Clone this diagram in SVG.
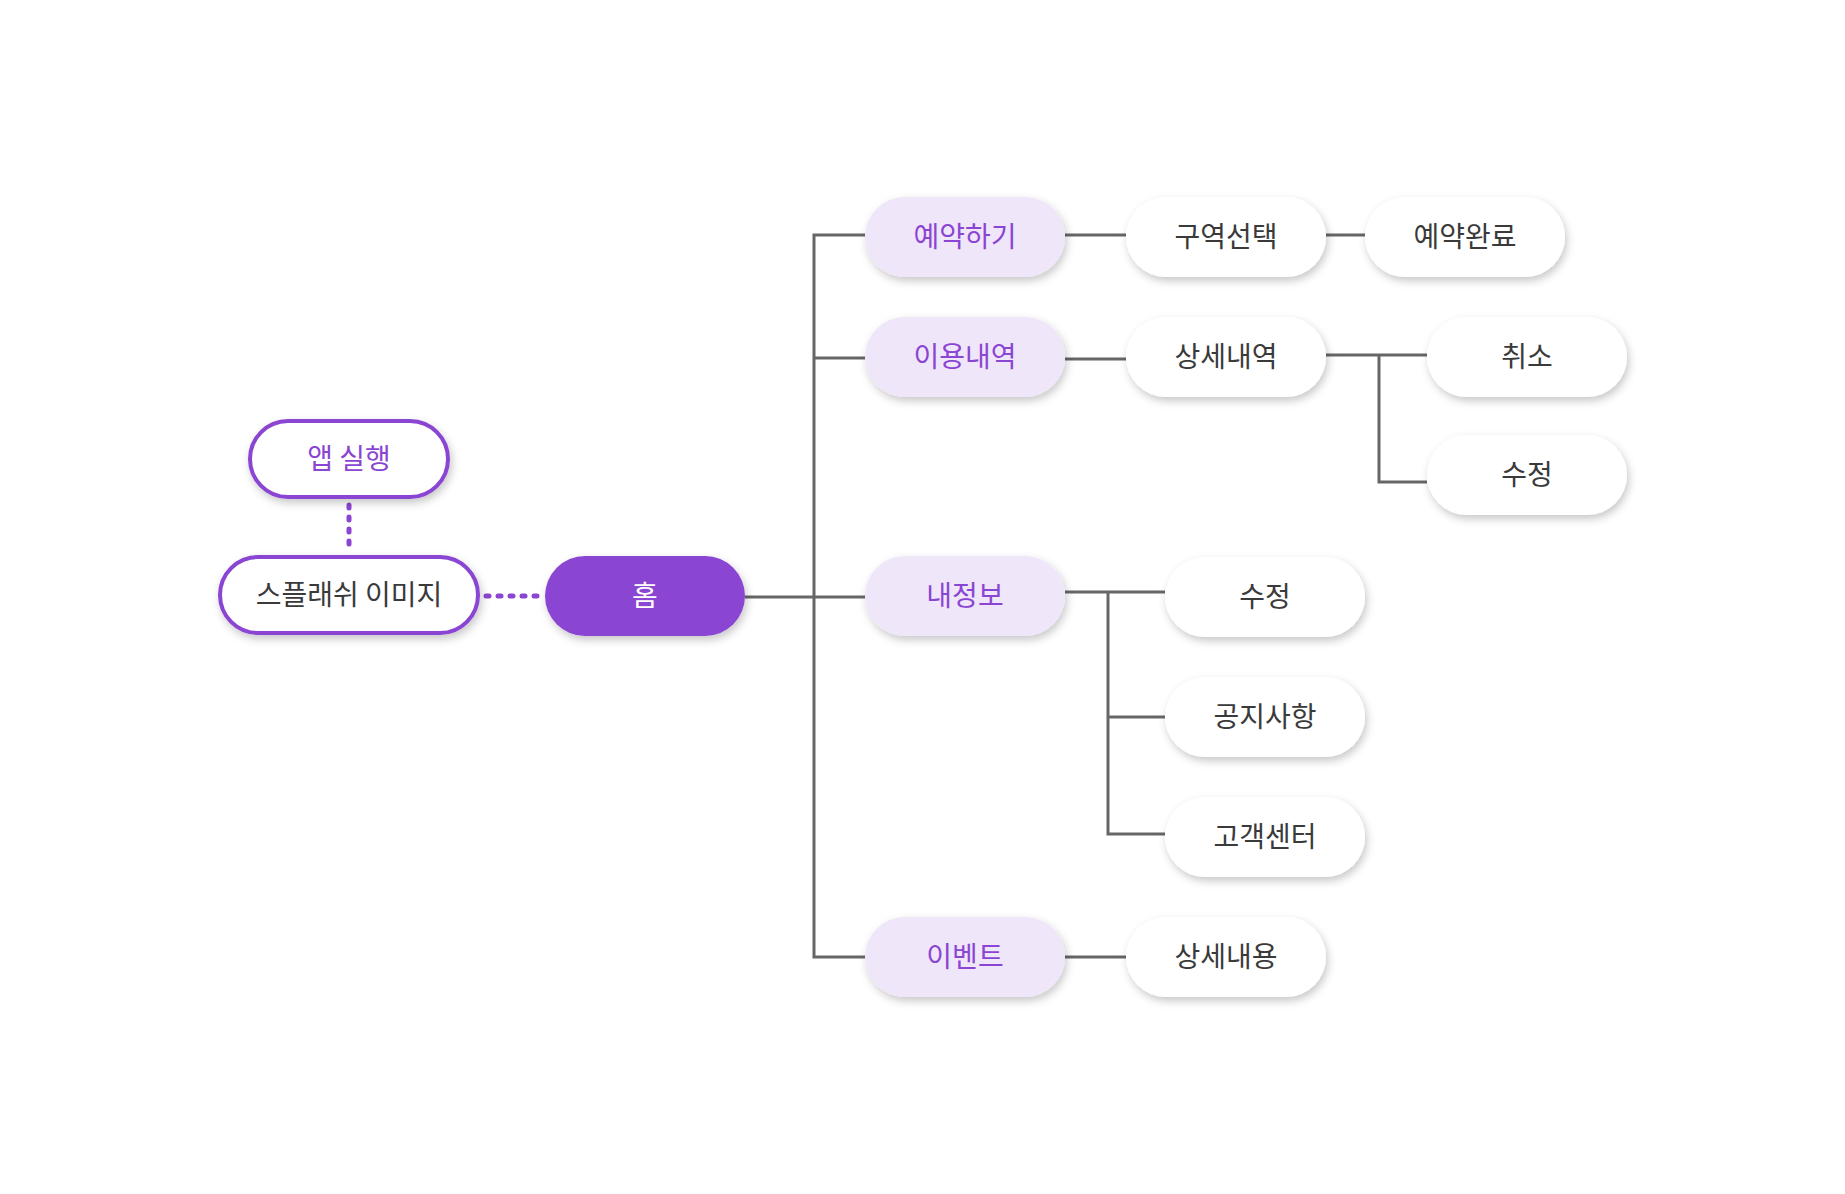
<svg xmlns="http://www.w3.org/2000/svg" width="1845" height="1194" viewBox="0 0 1845 1194">
  <defs>
    <filter id="sh" x="-20%" y="-30%" width="140%" height="170%">
      <feDropShadow dx="2" dy="4" stdDeviation="4" flood-color="#000" flood-opacity="0.22"/>
    </filter>
  </defs>
  <style>
    .lbl { font-family: "Noto Sans CJK KR", "Noto Sans", sans-serif; font-size: 28px; font-weight: 400; text-anchor: middle; dominant-baseline: central; }
    .dark { fill: #3a3a3a; }
    .purp { fill: #8a45d2; }
    .white { fill: #ffffff; }
    .n-white { fill: #ffffff; filter: url(#sh); }
    .n-light { fill: #f0e6fa; filter: url(#sh); }
    .n-outline { fill: #ffffff; stroke: #8a45d2; stroke-width: 4; filter: url(#sh); }
    .n-solid { fill: #8a45d2; filter: url(#sh); }
    .ln { fill: none; stroke: #666666; stroke-width: 3; }
    .dot { fill: none; stroke: #8a45d2; stroke-width: 5; stroke-linecap: round; stroke-dasharray: 3 9; }
  </style>
  <rect width="1845" height="1194" fill="#ffffff"/>

  <g id="connectors">
    <line class="dot" x1="349" y1="505" x2="349" y2="552"/>
    <line class="dot" x1="486" y1="596" x2="542" y2="596"/>
    <polyline class="ln" points="745,597 814,597"/>
    <polyline class="ln" points="865,235 814,235 814,957 865,957"/>
    <line class="ln" x1="814" y1="358" x2="865" y2="358"/>
    <line class="ln" x1="814" y1="597" x2="865" y2="597"/>
    <line class="ln" x1="1065" y1="235" x2="1126" y2="235"/>
    <line class="ln" x1="1326" y1="235" x2="1365" y2="235"/>
    <line class="ln" x1="1065" y1="359" x2="1126" y2="359"/>
    <line class="ln" x1="1326" y1="355" x2="1427" y2="355"/>
    <polyline class="ln" points="1379,355 1379,482 1427,482"/>
    <line class="ln" x1="1065" y1="592" x2="1165" y2="592"/>
    <polyline class="ln" points="1108,592 1108,834 1165,834"/>
    <line class="ln" x1="1108" y1="717" x2="1165" y2="717"/>
    <line class="ln" x1="1065" y1="957" x2="1126" y2="957"/>
  </g>

  <g id="app-start">
    <rect class="n-outline" x="250" y="421" width="198" height="76" rx="38"/>
    <text class="lbl purp" x="349" y="457">앱 실행</text>
  </g>
  <g id="splash">
    <rect class="n-outline" x="220" y="557" width="258" height="76" rx="38"/>
    <text class="lbl dark" x="349" y="593">스플래쉬 이미지</text>
  </g>
  <g id="home">
    <rect class="n-solid" x="545" y="556" width="200" height="80" rx="40"/>
    <text class="lbl white" x="645" y="594">홈</text>
  </g>

  <g id="reserve">
    <rect class="n-light" x="865" y="197" width="200" height="80" rx="40"/>
    <text class="lbl purp" x="965" y="235">예약하기</text>
  </g>
  <g id="history">
    <rect class="n-light" x="865" y="317" width="200" height="80" rx="40"/>
    <text class="lbl purp" x="965" y="355">이용내역</text>
  </g>
  <g id="myinfo">
    <rect class="n-light" x="865" y="556" width="200" height="80" rx="40"/>
    <text class="lbl purp" x="965" y="594">내정보</text>
  </g>
  <g id="event">
    <rect class="n-light" x="865" y="917" width="200" height="80" rx="40"/>
    <text class="lbl purp" x="965" y="955">이벤트</text>
  </g>

  <g id="zone-select">
    <rect class="n-white" x="1126" y="197" width="200" height="80" rx="40"/>
    <text class="lbl dark" x="1226" y="235">구역선택</text>
  </g>
  <g id="reserve-done">
    <rect class="n-white" x="1365" y="197" width="200" height="80" rx="40"/>
    <text class="lbl dark" x="1465" y="235">예약완료</text>
  </g>
  <g id="history-detail">
    <rect class="n-white" x="1126" y="317" width="200" height="80" rx="40"/>
    <text class="lbl dark" x="1226" y="355">상세내역</text>
  </g>
  <g id="cancel">
    <rect class="n-white" x="1427" y="317" width="200" height="80" rx="40"/>
    <text class="lbl dark" x="1527" y="355">취소</text>
  </g>
  <g id="history-edit">
    <rect class="n-white" x="1427" y="435" width="200" height="80" rx="40"/>
    <text class="lbl dark" x="1527" y="473">수정</text>
  </g>
  <g id="info-edit">
    <rect class="n-white" x="1165" y="557" width="200" height="80" rx="40"/>
    <text class="lbl dark" x="1265" y="595">수정</text>
  </g>
  <g id="notice">
    <rect class="n-white" x="1165" y="677" width="200" height="80" rx="40"/>
    <text class="lbl dark" x="1265" y="715">공지사항</text>
  </g>
  <g id="support">
    <rect class="n-white" x="1165" y="797" width="200" height="80" rx="40"/>
    <text class="lbl dark" x="1265" y="835">고객센터</text>
  </g>
  <g id="event-detail">
    <rect class="n-white" x="1126" y="917" width="200" height="80" rx="40"/>
    <text class="lbl dark" x="1226" y="955">상세내용</text>
  </g>
</svg>
